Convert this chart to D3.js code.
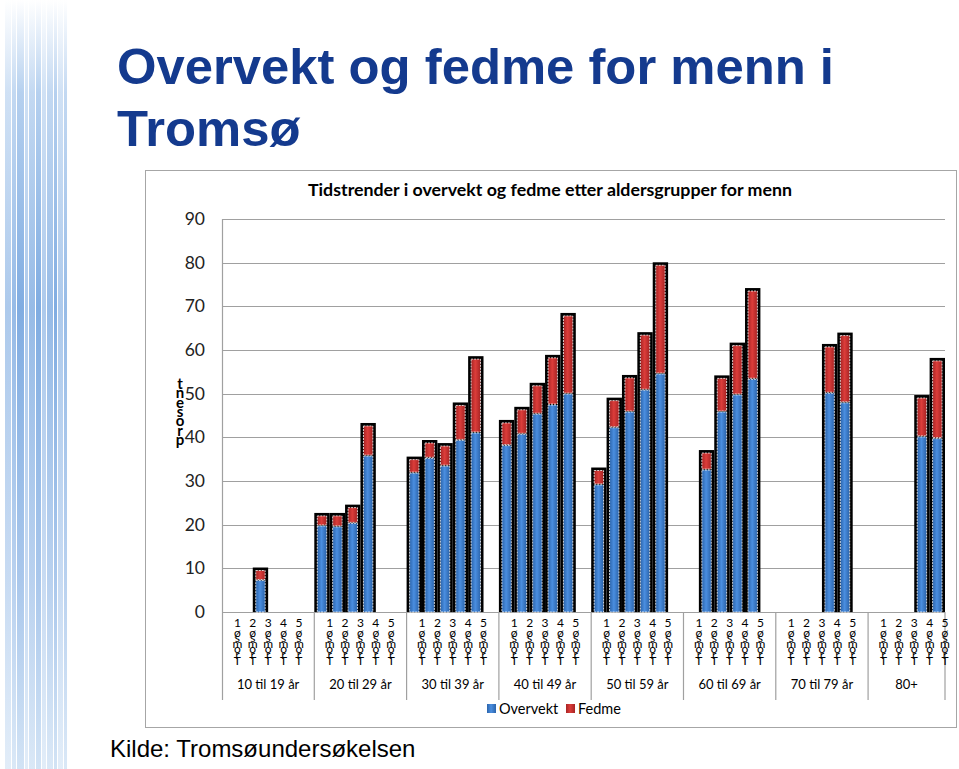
<!DOCTYPE html>
<html>
<head>
<meta charset="utf-8">
<script src="https://cdn.jsdelivr.net/npm/d3@7"></script>
<style>
  body { margin: 0; background: #fff; }
  svg { display: block; }
</style>
</head>
<body>
<div id="chart"></div>
<script>
// Chart data (prosent), one value per survey (Tromsø 1-5), null = no bar
const groups = ['10 til 19 år', '20 til 29 år', '30 til 39 år', '40 til 49 år',
                '50 til 59 år', '60 til 69 år', '70 til 79 år', '80+'];
const surveys = ['Tromsø 1', 'Tromsø 2', 'Tromsø 3', 'Tromsø 4', 'Tromsø 5'];
const overvekt = [
    [null, null, 7.2, null, null],
    [19.7, 19.5, 20.3, 35.7, null],
    [31.8, 35.2, 33.4, 39.3, 41.0],
    [38.1, 40.7, 45.3, 47.4, 49.9],
    [29.1, 42.2, 45.8, 50.8, 54.5],
    [null, 32.5, 45.8, 49.7, 53.3],
    [null, null, null, 50.1, 47.9],
    [null, null, null, 40.1, 39.7]
];
const fedme = [
    [null, null, 2.3, null, null],
    [2.3, 2.5, 3.6, 6.9, null],
    [3.1, 3.5, 4.6, 8.0, 16.9],
    [5.2, 5.6, 6.5, 10.8, 17.9],
    [3.3, 6.2, 7.8, 12.6, 24.9],
    [null, 3.9, 7.7, 11.3, 20.2],
    [null, null, null, 10.6, 15.4],
    [null, null, null, 8.9, 17.8]
];
const yTicks = [0, 10, 20, 30, 40, 50, 60, 70, 80, 90];

const W = 959, H = 769;
const svg = d3.select('#chart').append('svg')
    .attr('width', W)
    .attr('height', H);

// Decorative stripes on the left
const defs = svg.append('defs');
const stripeGrad = defs.append('linearGradient')
    .attr('id', 'stripe').attr('x1', 0).attr('y1', 0).attr('x2', 0).attr('y2', 1);
stripeGrad.append('stop').attr('offset', '0%').attr('stop-color', '#ffffff');
stripeGrad.append('stop').attr('offset', '12%').attr('stop-color', '#a9c8ec');
stripeGrad.append('stop').attr('offset', '40%').attr('stop-color', '#6a9edc');
stripeGrad.append('stop').attr('offset', '75%').attr('stop-color', '#9abde8');
stripeGrad.append('stop').attr('offset', '100%').attr('stop-color', '#cadef3');

const stripes = [[5, 6], [12, 4], [17, 7], [25, 3], [29, 6], [36, 5], [42, 4], [47, 6], [54, 3], [58, 5], [64, 3]];
svg.append('g').selectAll('rect')
    .data(stripes)
    .enter().append('rect')
    .attr('x', d => d[0])
    .attr('y', 0)
    .attr('width', d => d[1])
    .attr('height', H)
    .attr('fill', 'url(#stripe)')
    .attr('opacity', (d, i) => 0.55 + (i % 3) * 0.15);

// Slide title
const title = svg.append('text')
    .attr('x', 117)
    .attr('font-family', 'Liberation Sans, Arial, sans-serif')
    .attr('font-weight', 'bold')
    .attr('font-size', 50.8)
    .attr('fill', '#143a8e');
title.append('tspan').attr('x', 117).attr('y', 84).text('Overvekt og fedme for menn i');
title.append('tspan').attr('x', 117).attr('y', 146).text('Tromsø');

// Chart frame
svg.append('rect')
    .attr('x', 145.5).attr('y', 170.5)
    .attr('width', 811).attr('height', 557)
    .attr('fill', '#fff')
    .attr('stroke', '#a6a6a6');

svg.append('text')
    .attr('x', 550).attr('y', 196)
    .attr('text-anchor', 'middle')
    .attr('font-family', 'Lato, sans-serif')
    .attr('font-weight', 'bold')
    .attr('font-size', 17.8)
    .attr('fill', '#000')
    .text('Tidstrender i overvekt og fedme etter aldersgrupper for menn');

// Scales
const plotLeft = 222, plotRight = 945, plotTop = 219, plotBottom = 612;
const nSlots = groups.length * 6 - 1;
const x = d3.scaleLinear().domain([0, nSlots]).range([plotLeft, plotRight]);
const y = d3.scaleLinear().domain([0, 90]).range([plotBottom, plotTop]);
const slotW = x(1) - x(0);

// Gridlines
svg.append('g').selectAll('line')
    .data(yTicks)
    .enter().append('line')
    .attr('x1', plotLeft).attr('x2', plotRight)
    .attr('y1', d => Math.round(y(d)) + 0.5)
    .attr('y2', d => Math.round(y(d)) + 0.5)
    .attr('stroke', '#a0a0a0')
    .attr('stroke-width', 1.2);

// Y axis
const yAxis = svg.append('g')
    .attr('transform', `translate(${plotLeft},0)`)
    .call(d3.axisLeft(y).tickValues(yTicks).tickSize(0).tickPadding(17));
yAxis.select('.domain').remove();
yAxis.selectAll('text')
    .attr('font-family', 'Lato, sans-serif')
    .attr('font-size', 17.5)
    .attr('fill', '#222');

// left axis line
svg.append('line')
    .attr('x1', plotLeft + 0.5).attr('x2', plotLeft + 0.5)
    .attr('y1', plotTop).attr('y2', 700)
    .attr('stroke', '#a0a0a0').attr('stroke-width', 1.2);

// group separators below the axis
const seps = d3.range(1, groups.length + 1).map(g => g === groups.length ? nSlots : g * 6);
svg.append('g').selectAll('line')
    .data(seps)
    .enter().append('line')
    .attr('x1', d => x(d)).attr('x2', d => x(d))
    .attr('y1', plotBottom).attr('y2', 700)
    .attr('stroke', '#a0a0a0').attr('stroke-width', 1.2);

// Y title, stacked letters in one text
const yTitle = svg.append('text')
    .attr('text-anchor', 'middle')
    .attr('font-family', 'Lato, sans-serif')
    .attr('font-weight', 'bold')
    .attr('font-size', 15)
    .attr('fill', '#000');
'prosent'.split('').reverse().forEach((c, i) => {
    yTitle.append('tspan')
        .attr('x', 180)
        .attr('y', 389 + i * 9.3)
        .text(c);
});

// Bar gradients
function hGrad(id, edge, mid) {
    const g = defs.append('linearGradient').attr('id', id)
        .attr('x1', 0).attr('y1', 0).attr('x2', 1).attr('y2', 0);
    g.append('stop').attr('offset', '0%').attr('stop-color', edge);
    g.append('stop').attr('offset', '45%').attr('stop-color', mid);
    g.append('stop').attr('offset', '100%').attr('stop-color', edge);
}
hGrad('blueGrad', '#2b64ab', '#4a8ee0');
hGrad('redGrad', '#a72424', '#dc3d3a');

// Build bar records
const bars = [];
groups.forEach((g, gi) => {
    surveys.forEach((s, si) => {
        const ov = overvekt[gi][si];
        const fe = fedme[gi][si];
        if (ov == null) return;
        bars.push({ slot: gi * 6 + si, ov: ov, total: ov + fe });
    });
});

const barG = svg.append('g');
bars.forEach(b => {
    const x0 = x(b.slot);
    barG.append('rect')
        .attr('x', x0)
        .attr('y', y(b.total) - 3)
        .attr('width', slotW)
        .attr('height', plotBottom - y(b.total) + 3)
        .attr('fill', '#000');
    barG.append('rect')
        .attr('x', x0 + 3)
        .attr('y', y(b.ov))
        .attr('width', slotW - 6)
        .attr('height', plotBottom - y(b.ov))
        .attr('fill', 'url(#blueGrad)')
        .attr('stroke', '#ffffff')
        .attr('stroke-width', 0.8)
        .attr('stroke-dasharray', '2,1');
    barG.append('rect')
        .attr('x', x0 + 3)
        .attr('y', y(b.total))
        .attr('width', slotW - 6)
        .attr('height', y(b.ov) - y(b.total) - 1)
        .attr('fill', 'url(#redGrad)')
        .attr('stroke', '#ffffff')
        .attr('stroke-width', 0.8)
        .attr('stroke-dasharray', '2,1');
});

// Survey labels, stacked letters like the original (one text per label)
const labG = svg.append('g');
groups.forEach((g, gi) => {
    surveys.forEach((s, si) => {
        const cx = x(gi * 6 + si + 1);
        const chars = s.split('').reverse().filter(c => c !== ' ');
        const t = labG.append('text')
            .attr('text-anchor', 'middle')
            .attr('font-family', 'Lato, sans-serif')
            .attr('font-size', 12)
            .attr('fill', '#000');
        chars.forEach((c, ci) => {
            t.append('tspan')
                .attr('x', cx)
                .attr('y', ci === 0 ? 627 : 631 + ci * 5.6)
                .text(c);
        });
    });
});

// Group labels
svg.append('g').selectAll('text')
    .data(groups)
    .enter().append('text')
    .attr('x', (d, i) => (x(i * 6) + x(seps[i])) / 2)
    .attr('y', 689)
    .attr('text-anchor', 'middle')
    .attr('font-family', 'Lato, sans-serif')
    .attr('font-size', 13)
    .attr('fill', '#000')
    .text(d => d);

// Legend
const legend = [['Overvekt', 'url(#blueGrad)', 487], ['Fedme', 'url(#redGrad)', 566]];
legend.forEach(l => {
    svg.append('rect')
        .attr('x', l[2]).attr('y', 704)
        .attr('width', 9).attr('height', 9)
        .attr('fill', l[1]);
    svg.append('text')
        .attr('x', l[2] + 12).attr('y', 714)
        .attr('font-family', 'Lato, sans-serif')
        .attr('font-size', 14.5)
        .attr('fill', '#000')
        .text(l[0]);
});

// Source
svg.append('text')
    .attr('x', 110).attr('y', 757)
    .attr('font-family', 'Liberation Sans, Arial, sans-serif')
    .attr('font-size', 24)
    .attr('fill', '#000')
    .text('Kilde: Tromsøundersøkelsen');
</script>
</body>
</html>
